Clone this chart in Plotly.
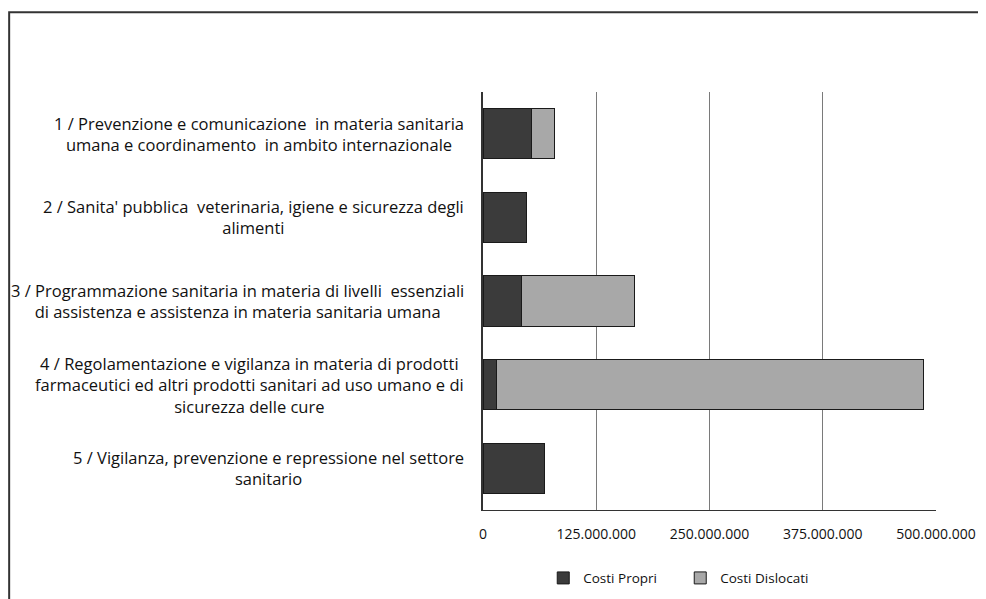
import plotly.graph_objects as go

categories = [
    "1 / Prevenzione e comunicazione  in materia sanitaria<br>umana e coordinamento  in ambito internazionale",
    "2 / Sanita' pubblica  veterinaria, igiene e sicurezza degli<br>alimenti",
    "3 / Programmazione sanitaria in materia di livelli  essenziali<br>di assistenza e assistenza in materia sanitaria umana",
    "4 / Regolamentazione e vigilanza in materia di prodotti<br>farmaceutici ed altri prodotti sanitari ad uso umano e di<br>sicurezza delle cure",
    "5 / Vigilanza, prevenzione e repressione nel settore<br>sanitario",
]
keys = ["c1", "c2", "c3", "c4", "c5"]
costi_propri = [53_000_000, 47_500_000, 43_000_000, 15_000_000, 67_500_000]
costi_dislocati = [25_500_000, 0, 124_000_000, 471_000_000, 0]
tick_vals = [0, 125_000_000, 250_000_000, 375_000_000, 500_000_000]
tick_text = ["0", "125.000.000", "250.000.000", "375.000.000", "500.000.000"]

FONT = "'Open Sans', sans-serif"
TXT = "#111111"

fig = go.Figure()
fig.add_trace(go.Bar(
    y=keys, x=costi_propri, orientation="h", name="Costi Propri",
    marker=dict(color="#3b3b3b", line=dict(color="#1a1a1a", width=1)),
))
fig.add_trace(go.Bar(
    y=keys, x=costi_dislocati, orientation="h", name="Costi Dislocati",
    marker=dict(color="#a8a8a8", line=dict(color="#1a1a1a", width=1)),
))

for k, lab in zip(keys, categories):
    fig.add_annotation(
        x=-0.0375, xref="paper", y=k, yref="y",
        text=lab, showarrow=False, xanchor="right", yanchor="middle",
        align="center", font=dict(family=FONT, size=16.5, color=TXT),
    )

fig.add_shape(type="rect", xref="paper", yref="paper",
              x0=-1.046, x1=1.108, y0=-0.3, y1=1.191,
              line=dict(color="#333333", width=2), layer="below")

fig.update_layout(
    barmode="stack",
    bargap=0.4,
    width=978, height=591,
    margin=dict(l=475, r=50, t=84, b=89, autoexpand=False),
    paper_bgcolor="white", plot_bgcolor="white",
    font=dict(family=FONT, size=14, color=TXT),
    showlegend=True,
    legend=dict(orientation="h", x=0.133, xanchor="left", y=-0.163, yanchor="middle",
                font=dict(family=FONT, size=13.5, color=TXT),
                entrywidth=92, entrywidthmode="pixels",
                traceorder="normal"),
    xaxis=dict(range=[0, 500_000_000], tickvals=tick_vals, ticktext=tick_text,
               showgrid=True, gridcolor="#7a7a7a", gridwidth=1,
               showline=True, linecolor="#333333", linewidth=1,
               zeroline=False, ticks="", ticklabelstandoff=11,
               tickfont=dict(family=FONT, size=14, color=TXT)),
    yaxis=dict(autorange="reversed", showticklabels=False, showgrid=False,
               showline=True, linecolor="#333333", linewidth=2, zeroline=False, ticks=""),
)

fig.write_html("out.html")
